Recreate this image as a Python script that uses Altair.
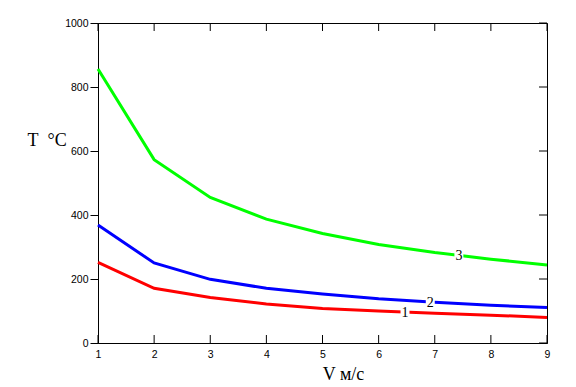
import altair as alt
import pandas as pd

v = [1, 2, 3, 4, 5, 6, 7, 8, 9]
t1 = [252, 171, 142, 122, 108, 100, 93, 87, 80]
t2 = [369, 250, 199, 171, 153, 138, 127, 118, 111]
t3 = [856, 573, 455, 387, 342, 308, 283, 262, 244]

series = ["1", "2", "3"]
colors = ["#FF0000", "#0000FF", "#00FF00"]

label_v = [6.47, 6.92, 7.43]
label_t = [97, 128, 276]

x_ticks = [1, 2, 3, 4, 5, 6, 7, 8, 9]
y_ticks = [0, 200, 400, 600, 800, 1000]

W, H = 449, 320

rows = []
for name, ts in zip(series, [t1, t2, t3]):
    for vi, ti in zip(v, ts):
        rows.append({"V": vi, "T": ti, "s": name})
df = pd.DataFrame(rows)
lab = pd.DataFrame({"V": label_v, "T": label_t, "s": series})
xt = pd.DataFrame({"V": x_ticks})
yt = pd.DataFrame({"T": y_ticks})

xs = alt.Scale(domain=[1, 9], nice=False, zero=False)
ys = alt.Scale(domain=[0, 1000], nice=False)
cs = alt.Scale(domain=series, range=colors)

x_axis = alt.Axis(
    title="V м/с", values=x_ticks, ticks=False, labelPadding=6, grid=False,
    format="d",
    labelFont="Liberation Sans", labelFontSize=10.5, labelColor="black",
    titleFont="Liberation Serif", titleFontSize=18, titleFontWeight="normal",
    titleColor="black", titleX=245, titleY=31, titleBaseline="middle",
    titleAlign="center", domainColor="black", labelFlush=False)
y_axis = alt.Axis(
    title="T\u00a0\u00a0°C", values=y_ticks, tickSize=8, tickColor="black",
    labelPadding=2, grid=False, format="d",
    labelFont="Liberation Sans", labelFontSize=10.5, labelColor="black",
    titleFont="Liberation Serif", titleFontSize=18, titleFontWeight="normal",
    titleColor="black", titleAngle=0, titleX=-71, titleY=117,
    titleAlign="left", titleBaseline="middle", domainColor="black")

X = alt.X("V:Q", scale=xs, axis=x_axis)
Y = alt.Y("T:Q", scale=ys, axis=y_axis)

lines = alt.Chart(df).mark_line(strokeWidth=3).encode(
    x=X, y=Y,
    color=alt.Color("s:N", scale=cs, legend=None),
)

boxes = alt.Chart(lab).mark_point(shape="square", filled=True, color="white",
                                  opacity=1, size=80).encode(x=X, y=Y)

texts = alt.Chart(lab).mark_text(font="Liberation Serif", fontSize=14,
                                 color="black", baseline="middle",
                                 align="center", dy=1).encode(
    x=X, y=Y, text="s:N")

bottom_ticks = alt.Chart(xt).mark_rule(color="black", strokeWidth=1).encode(
    x=X, y=alt.value(H), y2=alt.value(H - 8))
top_ticks = alt.Chart(xt).mark_rule(color="black", strokeWidth=1).encode(
    x=X, y=alt.value(0), y2=alt.value(8))
right_ticks = alt.Chart(yt).mark_rule(color="black", strokeWidth=1).encode(
    y=Y, x=alt.value(W), x2=alt.value(W - 8))

chart = alt.layer(lines, boxes, texts, bottom_ticks, top_ticks, right_ticks).properties(
    width=W, height=H,
    autosize=alt.AutoSizeParams(type="none"),
    padding={"left": 90, "top": 15, "right": 21, "bottom": 42},
    background="white",
).configure_view(stroke="black", strokeWidth=1)

chart.save("out.html", embed_options={"renderer": "svg", "actions": False})
